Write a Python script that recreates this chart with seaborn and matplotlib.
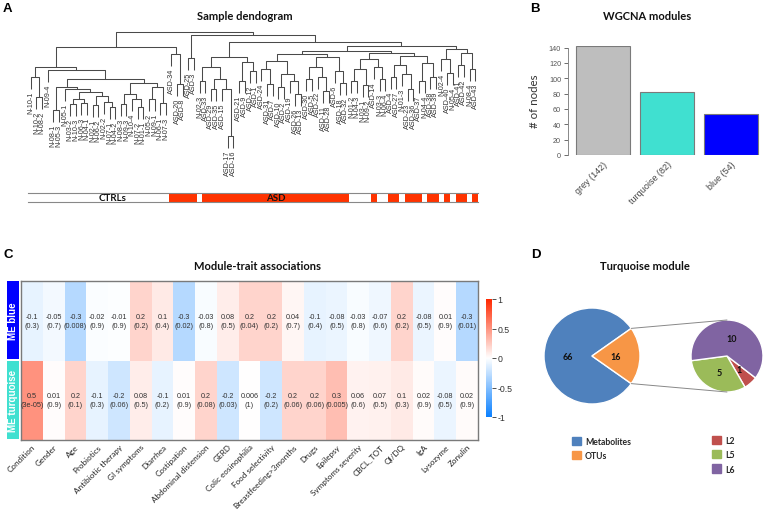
import numpy as np
import pandas as pd
import matplotlib
matplotlib.use("Agg")
import matplotlib.pyplot as plt
from matplotlib.colors import LinearSegmentedColormap
from matplotlib.patches import Patch
import seaborn as sns

# ------------------------------------------------------------------ data
# Panel A: sample dendrogram, nodes are (merge height, left, right)
C1 = (0.82, "N-10-1", (0.62, "N-10-2", "N-08-2"))
C4b = (0.67, (0.60, (0.55, "N-03-2", "N-10-3"), (0.56, "N-06-3", "N-04-1")),
       (0.63, (0.54, "N-02-1", "N-06-2"), (0.57, "N-02-2", (0.52, "N-07-1", "N-04-2"))))
C4 = (0.72, (0.49, "N-08-1", "N-05-3"), (0.70, "N-05-1", C4b))
C5 = (0.76, (0.65, (0.55, "N-08-3", "N-09-3"), (0.60, "N-10-4", (0.52, "N-07-2", "N-01-1"))),
      (0.72, (0.60, "N-05-2", "N-09-1"), (0.56, "N-06-1", "N-07-3")))
CTRL = (0.92, C1, (0.89, "N-09-4", (0.80, C4, C5)))
LEFT = (1.12, CTRL, (1.05, "ASD-34", (0.75, "ASD-20", "ASD-8")))
R2a = (1.02, (0.92, (0.78, "N-02-3", "ASD-33"),
              (0.80, (0.70, "ASD-29", "ASD-35"), (0.70, "ASD-15", (0.23, "ASD-17", "ASD-16")))),
       (0.97, (0.78, "ASD-21", "ASD-9"), (0.88, "ASD-12", "ASD-1")))
R3a1 = (0.98, (0.90, "ASD-24", (0.75, "ASD-31", "ASD-7")),
        (0.85, (0.72, "ASD-10", "ASD-2"), (0.78, "ASD-19", (0.65, "ASD-26", "ASD-13"))))
R3a2 = (1.02, (0.92, (0.80, "ASD-30", "ASD-5"), (0.82, "ASD-22", (0.68, "ASD-11", "ASD-28"))),
        (0.88, "ASD-6", (0.76, "ASD-18", "ASD-32")))
R3b1 = (1.00, (0.90, (0.78, "N-01-2", "N-04-3"), (0.74, "N-03-1", "N-09-2")),
        (0.92, "ASD-14", (0.80, "N-03-3", "N-06-4")))
R3b2 = (1.03, (0.94, (0.82, "ASD-4", "ASD-27"), (0.85, "N-01-3", (0.70, "ASD-23", "ASD-36"))),
        (0.96, (0.78, "ASD-37", "N-04-4"), (0.82, "ASD-38", "ASD-39")))
R3 = (1.08, (1.05, R3a1, R3a2), (1.06, R3b1, R3b2))
R4 = (1.10, (1.00, "N-02-4", (0.86, "ASD-40", "N-05-4")),
      (1.06, (0.94, "ASD-41", "ASD-42"), (0.90, "N-08-4", "ASD-43")))
RIGHT = (1.24, (1.01, "ASD-25", "ASD-3"), (1.17, R2a, (1.13, R3, R4)))
TREE = (1.27, LEFT, RIGHT)
LEAF_HANG = 0.12

# Panel B: WGCNA modules
module_names = ["grey (142)", "turquoise (82)", "blue (54)"]
module_sizes = [142, 82, 54]
module_colors = ["#BEBEBE", "#40E0D0", "#0000FF"]

# Panel C: module-trait associations
traits = ["Condition", "Gender", "Age", "Probiotics", "Antibiotic therapy", "GI symptoms",
          "Diarrhea", "Costipation", "Abdominal distension", "GERD", "Colic eosinophilia",
          "Food selectivity", "Breastfeeding>3months", "Drugs", "Epilepsy",
          "Symptoms severity", "CBCL_TOT", "QI/DQ", "IgA", "Lysozyme", "Zonulin"]
modules = ["ME blue", "ME turquoise"]
corr_blue = [-0.1, -0.05, -0.3, -0.02, -0.01, 0.2, 0.1, -0.3, -0.03, 0.08, 0.2, 0.2, 0.04,
             -0.1, -0.08, -0.03, -0.07, 0.2, -0.08, 0.01, -0.3]
p_blue = [0.3, 0.7, 0.008, 0.9, 0.9, 0.2, 0.4, 0.02, 0.8, 0.5, 0.04, 0.2, 0.7,
          0.4, 0.5, 0.8, 0.6, 0.2, 0.5, 0.9, 0.01]
corr_turq = [0.5, 0.01, 0.2, -0.1, -0.2, 0.08, -0.1, 0.01, 0.2, -0.2, 0.006, -0.2, 0.2,
             0.2, 0.3, 0.06, 0.07, 0.1, 0.02, -0.08, 0.02]
p_turq = [3e-05, 0.9, 0.1, 0.3, 0.06, 0.5, 0.2, 0.9, 0.08, 0.03, 1, 0.2, 0.06,
          0.06, 0.005, 0.6, 0.5, 0.3, 0.9, 0.5, 0.9]
module_box_colors = ["#0000FF", "#40E0D0"]

# Panel D: turquoise module composition
main_labels = ["Metabolites", "OTUs"]
main_values = [66, 16]
main_colors = ["#4F81BD", "#F79646"]
sub_labels = ["L2", "L5", "L6"]
sub_values = [1, 5, 10]
sub_colors = ["#C0504D", "#9BBB59", "#8064A2"]

# ------------------------------------------------------------------ figure
W, H = 767, 510
sns.set_theme(style="white")
plt.rcParams['font.family'] = ['Lato', 'DejaVu Sans']
fig = plt.figure(figsize=(W / 100, H / 100), dpi=100)
fig.patch.set_facecolor("white")


def fax(x0, y0, x1, y1):
    return fig.add_axes([x0 / W, 1 - y1 / H, (x1 - x0) / W, (y1 - y0) / H])


def ft(x, y, s, **kw):
    return fig.text(x / W, 1 - y / H, s, **kw)


ARIAL = ['Liberation Sans', 'DejaVu Sans']
letter_kw = dict(fontsize=9.5, fontweight='bold', family=ARIAL, ha='left', va='top', color='black')
title_kw = dict(fontsize=8, fontweight='bold', ha='center', va='center', color='#111')
ft(3, 3, "A", **letter_kw)
ft(530, 3, "B", **letter_kw)
ft(3, 249, "C", **letter_kw)
ft(531, 249, "D", **letter_kw)

# ---------------- Panel A: dendrogram
axd = fax(28, 30, 478, 160)
leaves = []
line_col = "#4a4a4a"


def draw(node, parent_h):
    if isinstance(node, str):
        x = len(leaves)
        bottom = parent_h - LEAF_HANG
        leaves.append((node, x, bottom))
        return x, bottom
    h, a, b = node
    xa, ya = draw(a, h)
    xb, yb = draw(b, h)
    axd.plot([xa, xa, xb, xb], [ya, h, h, yb], color=line_col, lw=0.75, solid_capstyle='butt')
    return (xa + xb) / 2, h


draw(TREE, TREE[0])
n_leaves = len(leaves)
axd.set_xlim(-0.5, n_leaves - 0.5)
axd.set_ylim(0, 1.30)
axd.axis('off')
for name, x, bottom in leaves:
    axd.text(x, bottom - 0.02, name, rotation=90, ha='center', va='top', fontsize=5.2,
             family=ARIAL, color='#333', clip_on=False)
ft(245, 17, "Sample dendogram", **title_kw)

# group colour bar
axc = fax(28, 194, 478, 203)
leaf_cols = ["#FF3300" if nm.startswith("ASD") else "white" for nm, _, _ in leaves]
axc.bar(np.arange(n_leaves), np.ones(n_leaves), width=1.0, color=leaf_cols, linewidth=0)
axc.set_xlim(-0.5, n_leaves - 0.5)
axc.set_ylim(0, 1)
axc.set_xticks([]); axc.set_yticks([])
for s in ["left", "right"]:
    axc.spines[s].set_visible(False)
for s in ["top", "bottom"]:
    axc.spines[s].set_color("#888")
    axc.spines[s].set_linewidth(0.8)
axc.text(14.5, 0.45, "CTRLs", ha='center', va='center', fontsize=7, fontweight='bold', color='#111')
axc.text(43.5, 0.45, "ASD", ha='center', va='center', fontsize=7, fontweight='bold', color='#111')

# ---------------- Panel B: bar chart
axb = fax(568, 47, 762, 156)
dfb = pd.DataFrame({"module": module_names, "n": module_sizes})
sns.barplot(data=dfb, x="module", y="n", hue="module", palette=module_colors, legend=False,
            width=0.84, saturation=1, edgecolor="#7a7a7a", linewidth=0.8, ax=axb)
axb.set_xlim(-0.55, 2.48)
axb.set_ylim(0, 142)
axb.set_yticks(range(0, 141, 20))
axb.tick_params(axis='y', labelsize=5.2, colors='#555', length=3, width=0.6, pad=2, left=True)
for lab in axb.get_yticklabels():
    lab.set_family(ARIAL)
axb.set_xticks(range(3))
axb.set_xticklabels(module_names, rotation=45, ha='right', rotation_mode='anchor',
                    fontsize=6.5, family=ARIAL, color='#444')
axb.tick_params(axis='x', length=0, pad=3)
for s in ["top", "right", "bottom"]:
    axb.spines[s].set_visible(False)
axb.spines["left"].set_bounds(0, 140)
axb.spines["left"].set_color("#888")
axb.spines["left"].set_linewidth(0.7)
axb.set_xlabel("")
axb.set_ylabel("# of nodes", fontsize=8.3, color='#333', labelpad=6)
ft(647, 17, "WGCNA modules", **title_kw)

# ---------------- Panel C: heatmap
axh = fax(21, 282, 478, 441)
cax = fax(486, 300, 492, 418)
corr = pd.DataFrame([corr_blue, corr_turq], index=modules, columns=traits)
annot = np.array([["{:.1g}\n({:.1g})".format(c, p) for c, p in zip(cs, ps)]
                  for cs, ps in [(corr_blue, p_blue), (corr_turq, p_turq)]])
cmap = LinearSegmentedColormap.from_list("bwr_wgcna", ["#0A80FF", "#FFFFFF", "#FF2800"])
sns.heatmap(corr, cmap=cmap, vmin=-1, vmax=1, annot=annot, fmt="", ax=axh, cbar_ax=cax,
            annot_kws=dict(fontsize=5.2, color='#333', family=ARIAL, linespacing=1.3),
            xticklabels=traits, yticklabels=False)
for s in axh.spines.values():
    s.set_visible(True)
    s.set_color("#7a7a7a")
    s.set_linewidth(1.0)
axh.set_xticklabels(traits, rotation=45, ha='right', rotation_mode='anchor', fontsize=5.9, color='#222')
axh.tick_params(axis='x', length=0, pad=2)
axh.set_xlabel(""); axh.set_ylabel("")
cax.set_yticks([-1, -0.5, 0, 0.5, 1])
cax.set_yticklabels(["-1", "-0.5", "0", "0.5", "1"])
cax.tick_params(labelsize=6.3, length=3, width=0.6, colors='#333', pad=1)
for lab in cax.get_yticklabels():
    lab.set_family(ARIAL)
ft(258, 267, "Module-trait associations", **title_kw)

# module boxes
for i, (m, col) in enumerate(zip(modules, module_box_colors)):
    y0 = 282 + i * 80
    bx = fax(7, y0, 19, y0 + 78)
    bx.set_facecolor(col)
    bx.set_xticks([]); bx.set_yticks([])
    for s in bx.spines.values():
        s.set_visible(False)
    bx.text(0.5, 0.5, m, rotation=90, ha='center', va='center', color='white',
            fontsize=7, fontweight='bold', family=ARIAL, transform=bx.transAxes)

# ---------------- Panel D: pie of pie
axp = fax(530, 290, 767, 490)
c_main, r_main = (592, 153), 48
c_sub, r_sub = (727, 153), 36
half = main_values[1] / sum(main_values) * 180
wm, _ = axp.pie(main_values, colors=main_colors, startangle=half, counterclock=True,
                center=c_main, radius=r_main, frame=True)
ws, _ = axp.pie(sub_values, colors=sub_colors, startangle=-37.5, counterclock=False,
                center=c_sub, radius=r_sub, frame=True)
axp.set_xlim(530, 767)
axp.set_ylim(20, 220)
axp.axis('off')


def wedge_label(w, val, cen, r, frac=0.5):
    a = np.deg2rad((w.theta1 + w.theta2) / 2)
    axp.text(cen[0] + frac * r * np.cos(a), cen[1] + frac * r * np.sin(a), str(val),
             ha='center', va='center', fontsize=6.5, fontweight='bold', color='#111')


for w, v in zip(wm, main_values):
    wedge_label(w, v, c_main, r_main)
for w, v in zip(ws, sub_values):
    wedge_label(w, v, c_sub, r_sub)
# connector lines from the OTU wedge to the secondary pie
otu = wm[1]
for ang, sy in [(otu.theta2, 1), (otu.theta1, -1)]:
    a = np.deg2rad(ang)
    axp.plot([c_main[0] + r_main * np.cos(a), c_sub[0]],
             [c_main[1] + r_main * np.sin(a), c_sub[1] + sy * r_sub],
             color='#888', lw=0.7)
ft(645, 267, "Turquoise module", **title_kw)

leg_kw = dict(loc='upper left', frameon=False, handlelength=1.1, handleheight=1.1,
              handletextpad=0.4, labelspacing=0.6, borderaxespad=0, borderpad=0,
              prop=dict(family=['Lato', 'DejaVu Sans'], weight='bold', size=6.2))
fig.legend(handles=[Patch(color=c, label=l) for l, c in zip(main_labels, main_colors)],
           bbox_to_anchor=(572 / W, 1 - 438 / H), **leg_kw)
fig.legend(handles=[Patch(color=c, label=l) for l, c in zip(sub_labels, sub_colors)],
           bbox_to_anchor=(712 / W, 1 - 437 / H), **leg_kw)

fig.savefig("out.png", dpi=100)
